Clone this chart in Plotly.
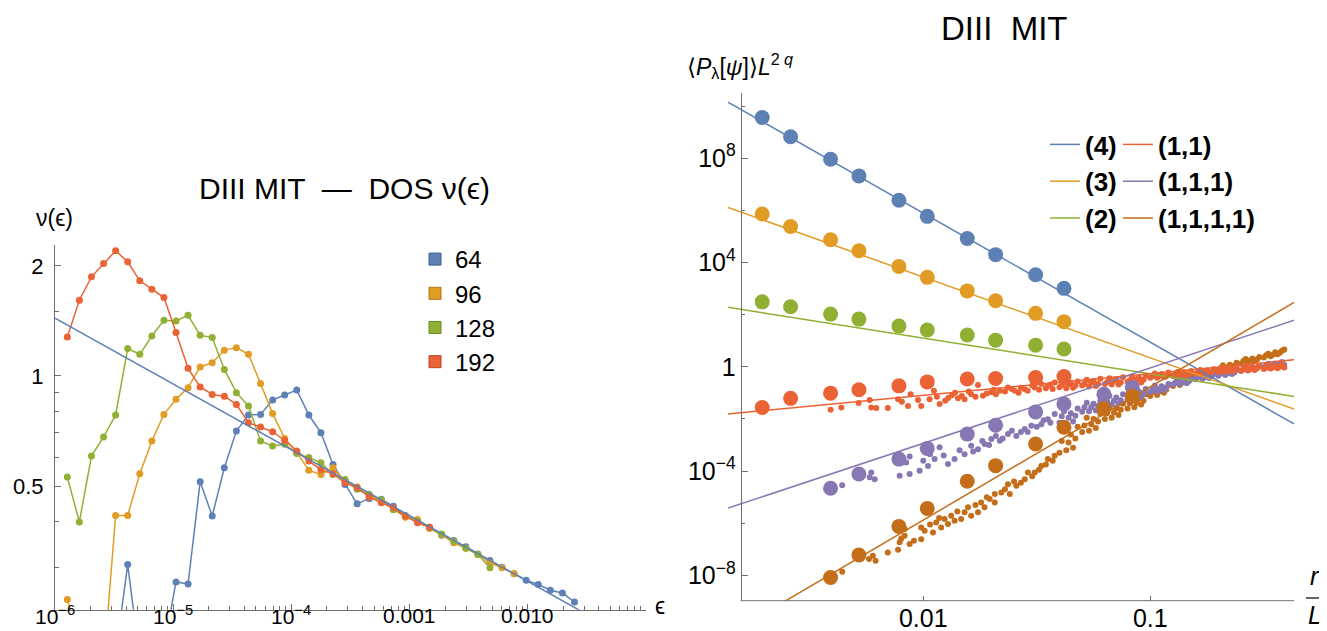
import numpy as np
import plotly.graph_objects as go

W, H = 1327, 631
def fx(p): return p / W
def fy(p): return 1 - p / H

FONT = "Liberation Sans, Arial, DejaVu Sans, sans-serif"
C_BLUE, C_ORANGE, C_GREEN = "#5E81B5", "#E19C24", "#8FB032"
C_RED, C_PURPLE, C_BROWN = "#EB6235", "#8778B3", "#C56E1A"
AXC = "#6f6f6f"

# ---------------- Left panel: DOS nu(eps) ----------------
eps_grid = [1.271e-6, 1.608e-6, 2.035e-6, 2.575e-6, 3.258e-6, 4.122e-6, 5.215e-6, 6.598e-6,
            8.348e-6, 1.056e-5, 1.336e-5, 1.691e-5, 2.139e-5, 2.707e-5, 3.424e-5, 4.333e-5,
            5.482e-5, 6.936e-5, 8.775e-5, 1.110e-4, 1.405e-4, 1.777e-4, 2.249e-4, 2.845e-4,
            3.600e-4, 4.554e-4, 5.762e-4, 7.290e-4, 9.223e-4, 1.167e-3, 1.476e-3, 1.868e-3,
            2.363e-3, 2.990e-3, 3.783e-3, 4.786e-3, 6.055e-3, 7.661e-3, 9.693e-3, 1.226e-2,
            1.552e-2, 1.963e-2, 2.484e-2]

nu_64_start = 4
nu_64 = [0.173, 0.305, 0.168, 0.15, 0.18, 0.2735, 0.270, 0.514, 0.414, 0.561, 0.707, 0.782,
         0.785, 0.860, 0.887, 0.916, 0.782, 0.6995, 0.573, 0.505, 0.447, 0.4625, 0.46, 0.44,
         0.415, 0.40, 0.385, 0.367, 0.355, 0.341, 0.326, 0.313, 0.30, 0.288, 0.2765, 0.269,
         0.2596, 0.255, 0.241]
nu_96_start = 0
nu_96 = [0.245, 0.185, 0.15, 0.16, 0.4155, 0.4155, 0.540, 0.664, 0.785, 0.863,
         0.929, 1.058, 1.087, 1.175, 1.195, 1.146, 0.953, 0.789, 0.675, 0.619,
         0.552, 0.538, 0.561, 0.515, 0.497, 0.47, 0.455, 0.432, 0.411, 0.405,
         0.383, 0.368, 0.350, 0.338, 0.325, 0.308, 0.299, 0.288]
nu_128_start = 0
nu_128 = [0.529, 0.399, 0.604, 0.681, 0.782, 1.188, 1.146, 1.286, 1.420, 1.414,
          1.465, 1.291, 1.273, 1.042, 0.900, 0.828, 0.664, 0.643, 0.650, 0.614,
          0.598, 0.579, 0.538, 0.521, 0.49, 0.475, 0.459, 0.431, 0.415, 0.40,
          0.386, 0.370, 0.353, 0.338, 0.325, 0.299]
nu_192_start = 0
nu_192 = [1.278, 1.610, 1.866, 2.029, 2.198, 2.051, 1.820, 1.726, 1.638, 1.314,
          1.049, 0.933, 0.890, 0.880, 0.836, 0.745, 0.725, 0.704, 0.666, 0.623,
          0.585, 0.555, 0.54, 0.5105, 0.4945, 0.467, 0.450, 0.436, 0.414, 0.397,
          0.386]
dos_labels = ["64", "96", "128", "192"]
dos_fit_amp, dos_fit_exp = 0.1197, -0.180
left_xtick_vals = [1e-6, 1e-5, 1e-4, 1e-3, 1e-2]
left_xtick_text = ["10<sup>−6</sup>", "10<sup>−5</sup>", "10<sup>−4</sup>", "0.001", "0.010"]

# ---------------- Right panel: <P_lambda> L^{2q} ----------------
L_sizes = [512, 384, 256, 192, 128, 96, 64, 48, 32, 24]
r_single, r_comp = 1, 2
P_4 = [3.63e9, 6.61e8, 9.12e7, 2.09e7, 2.45e6, 5.89e5, 8.32e4, 2.0e4, 3.39e3, 1.02e3]
P_3 = [7.24e5, 2.40e5, 7.41e4, 2.82e4, 7.08e3, 2.69e3, 813, 339, 112, 53.7]
P_2 = [309, 200, 105, 67.6, 36.3, 25.7, 16.6, 10.5, 6.76, 4.79]
P_11 = [0.0275, 0.0617, 0.0977, 0.132, 0.186, 0.263, 0.339, 0.355, 0.389, 0.427]
P_111 = [2.19e-5, 7.76e-5, 2.88e-4, 7.41e-4, 2.63e-3, 5.75e-3, 0.0186, 0.0372, 0.0891, 0.162]
P_1111 = [8.32e-9, 6.03e-8, 7.59e-7, 3.72e-6, 4.07e-5, 1.62e-4, 1.10e-3, 4.79e-3, 0.0251, 0.0741]

rep_names = ["(4)", "(3)", "(2)", "(1,1)", "(1,1,1)", "(1,1,1,1)"]
fit_amp = [9.84e-5, 1.75e-3, 0.0230, 3.76, 700.0, 2.2e4]
fit_exp = [-4.95, -3.10, -1.37, 0.834, 2.89, 5.11]

# small dots (log10 r/L, log10 value)
red_small_lx = [-2.408, -2.361, -2.285, -2.236, -2.229, -2.207, -2.156, -2.111, -2.094, -2.067, -2.056,
                -2.023, -2.009, -1.972, -1.953, -1.928, -1.903, -1.874, -1.847, -1.818, -1.789, -1.759,
                -1.737, -1.700, -1.663, -1.627, -1.597, -1.553, -1.509, -1.480, -1.451, -1.421,
                -1.94, -1.89, -1.86, -1.83, -1.80, -1.77, -1.72, -1.69, -1.68, -1.64, -1.61, -1.58,
                -1.57, -1.54, -1.52, -1.49, -1.46, -1.44, -1.43,
                -1.40, -1.38, -1.36, -1.34, -1.32, -1.30, -1.28, -1.26, -1.24, -1.22,
                -1.20, -1.18, -1.16, -1.14, -1.12, -1.10, -1.08, -1.06, -1.04, -1.02,
                -1.00, -0.98, -0.96, -0.94, -0.92, -0.90, -0.88, -0.86, -0.84, -0.82,
                -0.80, -0.78, -0.76, -0.74, -0.72, -0.70, -0.68, -0.66, -0.64, -0.62,
                -0.60, -0.58, -0.56, -0.54, -0.52, -0.50, -0.48, -0.46, -0.44, -0.42, -0.41,
                -1.39, -1.37, -1.35, -1.33, -1.29, -1.27, -1.25, -1.23, -1.19, -1.17, -1.15, -1.13,
                -1.09, -1.07, -1.05, -1.03, -0.99, -0.97, -0.95, -0.93, -0.89, -0.87, -0.85, -0.83,
                -0.79, -0.77, -0.75, -0.73, -0.69, -0.67, -0.65, -0.63, -0.59, -0.57, -0.55, -0.53,
                -0.49, -0.47, -0.45, -0.43]
red_small_ly = [-1.65, -1.56, -1.39, -1.27, -1.56, -1.58, -1.58, -1.24, -1.34, -1.50, -1.05,
                -1.27, -1.50, -1.24, -0.92, -1.43, -1.30, -1.09, -1.21, -1.24, -1.05, -0.70,
                -1.11, -0.98, -0.92, -0.79, -0.92, -0.86, -0.79, -0.66, -0.73, -0.60,
                -1.15, -1.20, -1.00, -1.12, -0.95, -1.15, -1.02, -0.88, -1.05, -0.95, -0.85, -1.00,
                -0.80, -0.92, -0.72, -0.88, -0.82, -0.68, -0.85,
                -0.78, -0.60, -0.68, -0.80, -0.56, -0.72, -0.50, -0.60, -0.74, -0.46,
                -0.66, -0.44, -0.54, -0.68, -0.40, -0.58, -0.38, -0.48, -0.60, -0.34,
                -0.42, -0.26, -0.34, -0.40, -0.22, -0.35, -0.20, -0.27, -0.33, -0.16,
                -0.27, -0.12, -0.19, -0.25, -0.09, -0.20, -0.06, -0.12, -0.18, -0.03,
                -0.14, 0.00, -0.07, -0.12, 0.03, -0.08, 0.05, -0.02, -0.06, 0.08, -0.03,
                -0.70, -0.82, -0.62, -0.72, -0.64, -0.76, -0.54, -0.66, -0.58, -0.68, -0.48, -0.60,
                -0.52, -0.58, -0.42, -0.50, -0.36, -0.42, -0.28, -0.36, -0.30, -0.34, -0.22, -0.28,
                -0.22, -0.26, -0.14, -0.20, -0.15, -0.19, -0.08, -0.13, -0.09, -0.13, -0.02, -0.06,
                -0.04, -0.07, 0.03, 0.00]

purple_small_lx = [-2.357, -2.236, -2.229, -2.214, -2.104, -2.075, -2.060, -2.06, -2.016, -1.979, -1.950,
                   -1.928, -1.891, -1.862, -1.818, -1.789, -1.759, -1.730, -1.700, -1.663, -1.627, -1.590,
                   -1.553, -1.524, -1.480, -1.451, -1.421,
                   -2.00, -1.97, -1.91, -1.84, -1.78, -1.74, -1.71, -1.68, -1.65, -1.61, -1.57, -1.54,
                   -1.50, -1.47, -1.44,
                   -1.40, -1.38, -1.36, -1.34, -1.32, -1.30, -1.28, -1.26, -1.24, -1.22,
                   -1.20, -1.18, -1.16, -1.14, -1.12, -1.10, -1.08, -1.06, -1.04, -1.02,
                   -1.00, -0.98, -0.96, -0.94, -0.92, -0.90, -0.88, -0.86, -0.84, -0.82,
                   -0.80, -0.78, -0.76, -0.74, -0.72, -0.70, -0.68, -0.66, -0.64, -0.62,
                   -0.60, -0.58, -0.56, -0.54, -0.52, -0.50, -0.48, -0.46, -0.44, -0.42, -0.41,
                   -1.39, -1.37, -1.35, -1.33, -1.29, -1.27, -1.25, -1.23, -1.19, -1.17, -1.15, -1.13,
                   -1.09, -1.07, -1.05, -1.03, -0.99, -0.97, -0.95, -0.93, -0.89, -0.87, -0.85, -0.83,
                   -0.79, -0.77, -0.75, -0.73, -0.69, -0.67, -0.65, -0.63, -0.59, -0.57, -0.55, -0.53,
                   -0.49, -0.47, -0.45, -0.43]
purple_small_ly = [-4.54, -4.24, -4.05, -4.31, -4.18, -3.67, -4.11, -3.44, -3.99, -3.80, -3.54,
                   -3.09, -3.73, -3.54, -3.35, -3.03, -3.16, -2.96, -2.77, -2.84, -2.58, -2.65,
                   -2.39, -2.26, -2.20, -2.01, -1.81,
                   -3.60, -3.35, -3.40, -3.20, -3.25, -2.85, -3.00, -2.65, -2.75, -2.45, -2.50, -2.50,
                   -2.30, -2.05, -2.15,
                   -2.15, -1.70, -1.95, -2.10, -1.60, -1.72, -1.38, -1.55, -1.68, -1.30,
                   -1.50, -1.12, -1.30, -1.42, -1.05, -1.25, -0.92, -1.08, -1.15, -0.85,
                   -0.98, -0.72, -0.85, -0.90, -0.66, -0.68, -0.50, -0.58, -0.62, -0.45,
                   -0.48, -0.32, -0.40, -0.43, -0.28, -0.34, -0.18, -0.25, -0.28, -0.12,
                   -0.16, -0.02, -0.08, -0.10, 0.04, -0.02, 0.12, 0.06, 0.04, 0.18, 0.08,
                   -1.90, -2.20, -1.78, -1.88, -1.55, -1.70, -1.42, -1.50, -1.32, -1.45, -1.18, -1.28,
                   -1.08, -1.20, -0.95, -1.02, -0.85, -0.95, -0.75, -0.80, -0.60, -0.66, -0.50, -0.55,
                   -0.40, -0.46, -0.33, -0.37, -0.26, -0.31, -0.18, -0.22, -0.09, -0.14, -0.02, -0.05,
                   0.05, 0.00, 0.12, 0.10]

brown_small_lx = [-2.357, -2.239, -2.21, -2.222, -2.156, -2.111, -2.104, -2.097, -2.082, -2.082, -2.060,
                  -2.041, -2.009, -1.994, -2.009, -1.957, -1.943, -1.921, -1.906, -1.891, -1.877, -1.862,
                  -1.833, -1.818, -1.803, -1.789, -1.759, -1.745, -1.730, -1.707, -1.685, -1.685, -1.656,
                  -1.627, -1.619, -1.590, -1.553, -1.539, -1.509, -1.480, -1.451, -1.421,
                  -1.97, -1.93, -1.85, -1.77, -1.72, -1.64, -1.60, -1.57, -1.52, -1.49, -1.46, -1.43,
                  -1.40, -1.38, -1.36, -1.34, -1.32, -1.30, -1.28, -1.26, -1.24, -1.22,
                  -1.20, -1.18, -1.16, -1.14, -1.12, -1.10, -1.08, -1.06, -1.04, -1.02,
                  -1.00, -0.98, -0.96, -0.94, -0.92, -0.90, -0.88, -0.86, -0.84, -0.82,
                  -0.80, -0.78, -0.76, -0.74, -0.72, -0.70, -0.68, -0.66, -0.64, -0.62,
                  -0.60, -0.58, -0.56, -0.54, -0.52, -0.50, -0.48, -0.46, -0.44, -0.42, -0.41,
                  -1.39, -1.37, -1.35, -1.33, -1.29, -1.27, -1.25, -1.23, -1.19, -1.17, -1.15, -1.13,
                  -1.09, -1.07, -1.05, -1.03, -0.99, -0.97, -0.95, -0.93, -0.89, -0.87, -0.85, -0.83,
                  -0.79, -0.77, -0.75, -0.73, -0.69, -0.67, -0.65, -0.63, -0.59, -0.57, -0.55, -0.53,
                  -0.49, -0.47, -0.45, -0.43]
brown_small_ly = [-7.86, -7.37, -7.44, -7.25, -7.12, -7.02, -6.73, -6.58, -6.48, -6.22, -6.80,
                  -6.67, -6.61, -6.29, -6.16, -6.35, -5.97, -6.16, -5.84, -6.03, -5.71, -5.90,
                  -5.84, -5.58, -5.39, -5.71, -5.58, -5.20, -5.39, -5.07, -4.88, -5.20, -4.82,
                  -4.50, -4.88, -4.56, -4.31, -4.05, -4.05, -3.80, -3.54, -3.41,
                  -6.05, -5.80, -5.55, -5.30, -5.00, -4.70, -4.40, -4.45, -4.20, -3.95, -3.75, -3.60,
                  -3.30, -2.45, -2.90, -3.10, -2.30, -2.50, -1.95, -2.20, -2.35, -1.80,
                  -2.00, -1.55, -1.75, -1.85, -1.42, -1.60, -1.20, -1.38, -1.45, -1.05,
                  -1.12, -0.82, -0.95, -1.00, -0.70, -0.74, -0.48, -0.60, -0.62, -0.38,
                  -0.42, -0.20, -0.30, -0.30, -0.10, -0.14, 0.06, -0.02, 0.00, 0.16,
                  0.12, 0.30, 0.24, 0.22, 0.38, 0.36, 0.50, 0.46, 0.48, 0.62, 0.66,
                  -2.85, -3.20, -2.60, -2.75, -2.25, -2.45, -2.00, -2.10, -1.78, -1.95, -1.58, -1.65,
                  -1.40, -1.55, -1.22, -1.30, -0.98, -1.08, -0.80, -0.88, -0.62, -0.70, -0.46, -0.52,
                  -0.30, -0.38, -0.18, -0.22, -0.05, -0.10, 0.08, 0.04, 0.22, 0.16, 0.32, 0.28,
                  0.44, 0.40, 0.56, 0.54]

# ---------------- Geometry ----------------
LX0, LX1, LY0, LY1 = 47, 638, 237, 601.7
RX0, RX1, RY0, RY1 = 720, 1286, 85, 592.7
R_YAXIS_PX = 732.7
left_xrange = [-6.0, -1.0]
left_yrange = [np.log10(0.2296), np.log10(2.28)]
right_xrange = [-2.86, -0.367]
right_yrange = [-8.97, 10.5]

fig = go.Figure()

# ---- left series ----
for vals, start, col in [(nu_64, nu_64_start, C_BLUE), (nu_96, nu_96_start, C_ORANGE),
                         (nu_128, nu_128_start, C_GREEN), (nu_192, nu_192_start, C_RED)]:
    fig.add_trace(go.Scatter(x=eps_grid[start:start + len(vals)], y=vals, mode="lines+markers",
                             line=dict(color=col, width=1.5), marker=dict(color=col, size=7),
                             showlegend=False, xaxis="x", yaxis="y", hoverinfo="skip"))
xf = np.array([10 ** left_xrange[0], 10 ** left_xrange[1]])
fig.add_trace(go.Scatter(x=xf, y=dos_fit_amp * xf ** dos_fit_exp, mode="lines",
                         line=dict(color=C_BLUE, width=1.5), showlegend=False,
                         xaxis="x", yaxis="y", hoverinfo="skip"))
for lab, col, edge in zip(dos_labels, [C_BLUE, C_ORANGE, C_GREEN, C_RED],
                          ["#3d5f8f", "#b07812", "#6a8a1e", "#b8441f"]):
    fig.add_trace(go.Scatter(x=[None], y=[None], mode="markers", name=lab,
                             marker=dict(symbol="square", size=12, color=col,
                                         line=dict(color=edge, width=1)),
                             legend="legend", xaxis="x", yaxis="y"))

# ---- right small dots ----
for lx, ly, col in [(brown_small_lx, brown_small_ly, C_BROWN),
                    (purple_small_lx, purple_small_ly, C_PURPLE),
                    (red_small_lx, red_small_ly, C_RED)]:
    fig.add_trace(go.Scatter(x=10 ** np.array(lx), y=10 ** np.array(ly), mode="markers",
                             marker=dict(color=col, size=6), showlegend=False,
                             xaxis="x2", yaxis="y2", hoverinfo="skip"))

# ---- right big dots ----
x_single = [r_single / L for L in L_sizes]
x_comp = [r_comp / L for L in L_sizes]
for xs, ys, col in [(x_single, P_4, C_BLUE), (x_single, P_3, C_ORANGE), (x_single, P_2, C_GREEN),
                    (x_single, P_11, C_RED), (x_comp, P_111, C_PURPLE), (x_comp, P_1111, C_BROWN)]:
    fig.add_trace(go.Scatter(x=xs, y=ys, mode="markers", marker=dict(color=col, size=15),
                             showlegend=False, xaxis="x2", yaxis="y2", hoverinfo="skip"))

# ---- right fit lines (legend) ----
xr = np.array([10 ** right_xrange[0], 10 ** right_xrange[1]])
cols6 = [C_BLUE, C_ORANGE, C_GREEN, C_RED, C_PURPLE, C_BROWN]
for i, (nm, a, s, col) in enumerate(zip(rep_names, fit_amp, fit_exp, cols6)):
    fig.add_trace(go.Scatter(x=xr, y=a * xr ** s, mode="lines", name="<b>" + nm + "</b>",
                             line=dict(color=col, width=1.5),
                             legend="legend2" if i < 3 else "legend3",
                             xaxis="x2", yaxis="y2", hoverinfo="skip"))

# ---------------- Axes ----------------
def minor_vals(lo, hi):
    out = []
    for d in range(lo, hi):
        for m in range(2, 10):
            out.append(m * 10.0 ** d)
    return out

tickfont_l = dict(family=FONT, size=22, color="black")
tickfont_r = dict(family=FONT, size=25, color="black")

fig.update_layout(
    width=W, height=H, margin=dict(l=0, r=0, t=0, b=0, autoexpand=False),
    paper_bgcolor="white", plot_bgcolor="white", showlegend=True,
    font=dict(family=FONT, color="black"),
    xaxis=dict(type="log", range=left_xrange, domain=[fx(LX0), fx(LX1)], anchor="y",
               automargin=False,
               showline=True, linecolor=AXC, linewidth=1, ticks="inside", ticklen=6,
               tickcolor=AXC, showgrid=False, zeroline=False,
               tickmode="array", tickvals=left_xtick_vals, showticklabels=False,
               minor=dict(tickmode="array", tickvals=minor_vals(-6, -1), ticks="inside",
                          ticklen=3.5, tickcolor=AXC, showgrid=False)),
    yaxis=dict(type="log", range=left_yrange, domain=[fy(LY1), fy(LY0)], anchor="x",
               automargin=False, ticklabelstandoff=6,
               showline=True, linecolor=AXC, linewidth=1, ticks="inside", ticklen=6,
               tickcolor=AXC, showgrid=False, zeroline=False,
               tickmode="array", tickvals=[0.5, 1, 2], ticktext=["0.5", "1", "2"],
               tickfont=tickfont_l,
               minor=dict(tickmode="array", tickvals=[0.3, 0.4, 0.6, 0.7, 0.8, 0.9, 1.5],
                          ticks="inside", ticklen=3.5, tickcolor=AXC, showgrid=False)),
    xaxis2=dict(type="log", range=right_xrange, domain=[fx(RX0), fx(RX1)], anchor="y2",
                automargin=False,
                showline=False, ticks="inside", ticklen=5, tickcolor=AXC,
                showgrid=False, zeroline=False, tickmode="array", tickvals=[0.01, 0.1],
                ticktext=["0.01", "0.1"], tickfont=tickfont_r),
    yaxis2=dict(type="log", range=right_yrange, domain=[fy(RY1), fy(RY0)], anchor="free",
                automargin=False,
                position=fx(R_YAXIS_PX), showline=True, linecolor=AXC, linewidth=1,
                ticks="inside", ticklen=6, tickcolor=AXC, showgrid=False, zeroline=False,
                tickmode="array", tickvals=[1e-8, 1e-4, 1, 1e4, 1e8],
                ticktext=["10<sup>−8</sup>", "10<sup>−4</sup>", "1", "10<sup>4</sup>", "10<sup>8</sup>"],
                tickfont=tickfont_r,
                minor=dict(tickmode="array", tickvals=[1e-6, 1e-2, 1e2, 1e6, 1e10],
                           ticks="inside", ticklen=3.5, tickcolor=AXC, showgrid=False)),
    legend=dict(x=fx(407), y=fy(229), xanchor="left", yanchor="top", bgcolor="rgba(0,0,0,0)",
                font=dict(family=FONT, size=24, color="black"), tracegroupgap=0),
    legend2=dict(x=fx(1037), y=fy(113), xanchor="left", yanchor="top", bgcolor="rgba(0,0,0,0)",
                 font=dict(family=FONT, size=26, color="black")),
    legend3=dict(x=fx(1110), y=fy(113), xanchor="left", yanchor="top", bgcolor="rgba(0,0,0,0)",
                 font=dict(family=FONT, size=26, color="black")),
)

# right x-axis line starting at the y-axis, and the r/L fraction bar
fig.add_shape(type="line", xref="paper", yref="paper", x0=fx(R_YAXIS_PX), x1=fx(RX1),
              y0=fy(RY1), y1=fy(RY1), line=dict(color=AXC, width=1))
fig.add_shape(type="line", xref="paper", yref="paper", x0=fx(1298), x1=fx(1315),
              y0=fy(590), y1=fy(590), line=dict(color="black", width=1.2))

def ann(text, x, y, size, **kw):
    fig.add_annotation(text=text, x=fx(x), y=fy(y), xref="paper", yref="paper",
                       showarrow=False, xanchor="center", yanchor="middle",
                       font=dict(family=FONT, size=size, color="black"), **kw)

# left x tick labels (placed just under the axis)
for v, t in zip(left_xtick_vals, left_xtick_text):
    fig.add_annotation(text=t, x=np.log10(v), xref="x", y=fy(607), yref="paper",
                       showarrow=False, xanchor="center", yanchor="middle",
                       font=dict(family=FONT, size=21, color="black"))

ann("DIII MIT  —  DOS ν(ϵ)", 336, 180, 30)
ann("ν(ϵ)", 46, 210, 23)
ann("ϵ", 652, 598, 23)
ann("DIII  MIT", 997, 21, 33)
ann("⟨<i>P</i><sub>λ</sub>[<i>ψ</i>]⟩<i>L</i><sup>2 <i>q</i></sup>", 732, 58, 23)
ann("<i>r</i>", 1307, 568, 25)
ann("<i>L</i>", 1307, 607, 25)

fig.write_html("out.html")
